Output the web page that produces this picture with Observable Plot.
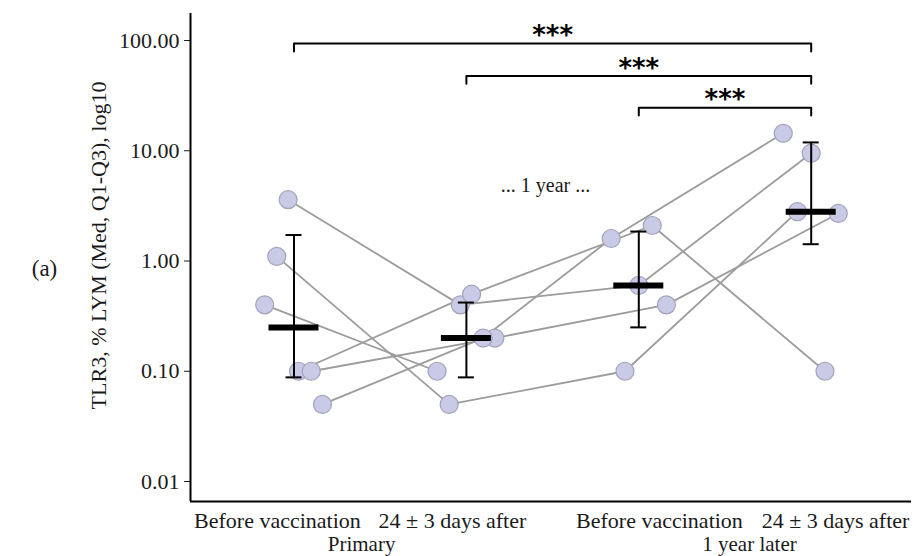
<!DOCTYPE html>
<html><head><meta charset="utf-8">
<script src="https://cdn.jsdelivr.net/npm/d3@7"></script>
<script src="https://cdn.jsdelivr.net/npm/@observablehq/plot@0.6"></script>
<style>
html,body{margin:0;padding:0;background:#fff;}
#chart{width:916px;height:556px;overflow:hidden;}
</style></head><body><div id="chart"></div>
<script>
// ---- data ----
const timepoints = ["Before vaccination", "24 \u00b1 3 days after", "Before vaccination", "24 \u00b1 3 days after"];
const periods = ["Primary", "1 year later"];
const subjects = ["S1", "S2", "S3", "S4", "S5", "S6"];
const beforePrimary = [3.6, 1.1, 0.4, 0.1, 0.1, 0.05];
const afterPrimary  = [0.4, 0.05, 0.1, 0.5, 0.2, 0.2];
const beforeYear    = [0.6, 0.1, null, 2.1, 0.4, 1.6];
const afterYear     = [9.5, 2.8, null, 0.1, 2.7, 14.4];
// horizontal jitter of each subject's dot (x units, category = 1..4)
const jitter = [
  [-0.034, -0.035, 0.0, 0.0],
  [-0.10, -0.10, -0.08, -0.08],
  [-0.17, -0.17, 0, 0],
  [0.026, 0.03, 0.078, 0.08],
  [0.10, 0.165, 0.16, 0.157],
  [0.165, 0.097, -0.16, -0.162]
];
const medians = [0.25, 0.2, 0.6, 2.8];
const q1 = [0.088, 0.088, 0.25, 1.42];
const q3 = [1.72, 0.42, 1.85, 11.9];
const compFrom = [1, 2, 3];
const compTo = [4, 4, 4];
const compLevel = [93.7, 47.7, 24.6];
const compLabel = ["***", "***", "***"];
const yTicks = [0.01, 0.1, 1, 10, 100];
const yLabel = "TLR3, % LYM (Med, Q1-Q3), log10";
const gapNote = "... 1 year ...";

// ---- derived tables ----
const series = [beforePrimary, afterPrimary, beforeYear, afterYear];
const pts = [];
subjects.forEach((s, i) => series.forEach((arr, t) => {
  if (arr[i] != null) pts.push({subject: s, x: t + 1 + jitter[i][t], value: arr[i]});
}));
const stats = medians.map((m, i) => ({x: i + 1, med: m, lo: q1[i], hi: q3[i]}));
const bracketPts = [];
compFrom.forEach((a, i) => {
  const b = compTo[i], y = compLevel[i], leg = y / 1.18;
  bracketPts.push({id: i, x: a, y: leg}, {id: i, x: a, y}, {id: i, x: b, y}, {id: i, x: b, y: leg});
});
const stars = compFrom.map((a, i) => ({x: (a + compTo[i]) / 2, y: compLevel[i], label: compLabel[i]}));

const xDomain = [0.3997, 4.5818];
const yDomain = [Math.pow(10, -2.1814), Math.pow(10, 2.2449)];
const tickAnchors = [0.904, 1.919, 3.12, 4.141];
const periodAnchors = [1.392, 3.642];

const chart = Plot.plot({
  width: 916, height: 556,
  marginLeft: 190, marginRight: 5, marginTop: 13, marginBottom: 55,
  style: {fontFamily: "'Liberation Serif', serif", fontSize: "22px", color: "#1a1a1a", background: "#fff"},
  x: {type: "linear", domain: xDomain, ticks: tickAnchors, tickFormat: (d) => timepoints[tickAnchors.indexOf(d)], tickSize: 0, tickPadding: 11, label: null},
  y: {type: "log", domain: yDomain, ticks: yTicks, tickFormat: d3.format(".2f"), tickSize: 6, tickPadding: 5, label: null},
  marks: [
    Plot.ruleY([yDomain[0]], {stroke: "#000", strokeWidth: 2}),
    Plot.ruleX([xDomain[0]], {stroke: "#000", strokeWidth: 2}),
    Plot.line(pts, {x: "x", y: "value", z: "subject", stroke: "#9c9c9c", strokeWidth: 1.8}),
    Plot.dot(pts, {x: "x", y: "value", r: 9, fill: "#c9cae5", stroke: "#a2a2ba", strokeWidth: 1.2}),
    Plot.ruleX(stats, {x: "x", y1: "lo", y2: "hi", stroke: "#000", strokeWidth: 2}),
    Plot.ruleY(stats, {y: "lo", x1: "x", x2: "x", insetLeft: -8, insetRight: -8, stroke: "#000", strokeWidth: 2}),
    Plot.ruleY(stats, {y: "hi", x1: "x", x2: "x", insetLeft: -8, insetRight: -8, stroke: "#000", strokeWidth: 2}),
    Plot.ruleY(stats, {y: "med", x1: "x", x2: "x", insetLeft: -25, insetRight: -25, stroke: "#000", strokeWidth: 6}),
    Plot.line(bracketPts, {x: "x", y: "y", z: "id", stroke: "#000", strokeWidth: 2}),
    Plot.text(stars, {x: "x", y: "y", text: "label", dy: -7.5, fontFamily: "'DejaVu Sans', sans-serif", fontWeight: "bold", fontSize: 26, fill: "#000"}),
    Plot.text([gapNote], {x: [2.459], y: [4.8], text: d => d, fontSize: 20}),
    Plot.text(periods, {x: periodAnchors, frameAnchor: "bottom", lineAnchor: "middle", textAnchor: "middle", dy: 43, fontSize: 21, text: d => d}),
    Plot.text([yLabel], {frameAnchor: "left", textAnchor: "middle", lineAnchor: "middle", rotate: -90, dx: -92, dy: -12, text: d => d}),
    Plot.text(["(a)"], {frameAnchor: "left", textAnchor: "middle", lineAnchor: "middle", dx: -146, dy: 11, text: d => d, fontSize: 23})
  ]
});
document.getElementById("chart").appendChild(chart);
</script>
</body></html>
